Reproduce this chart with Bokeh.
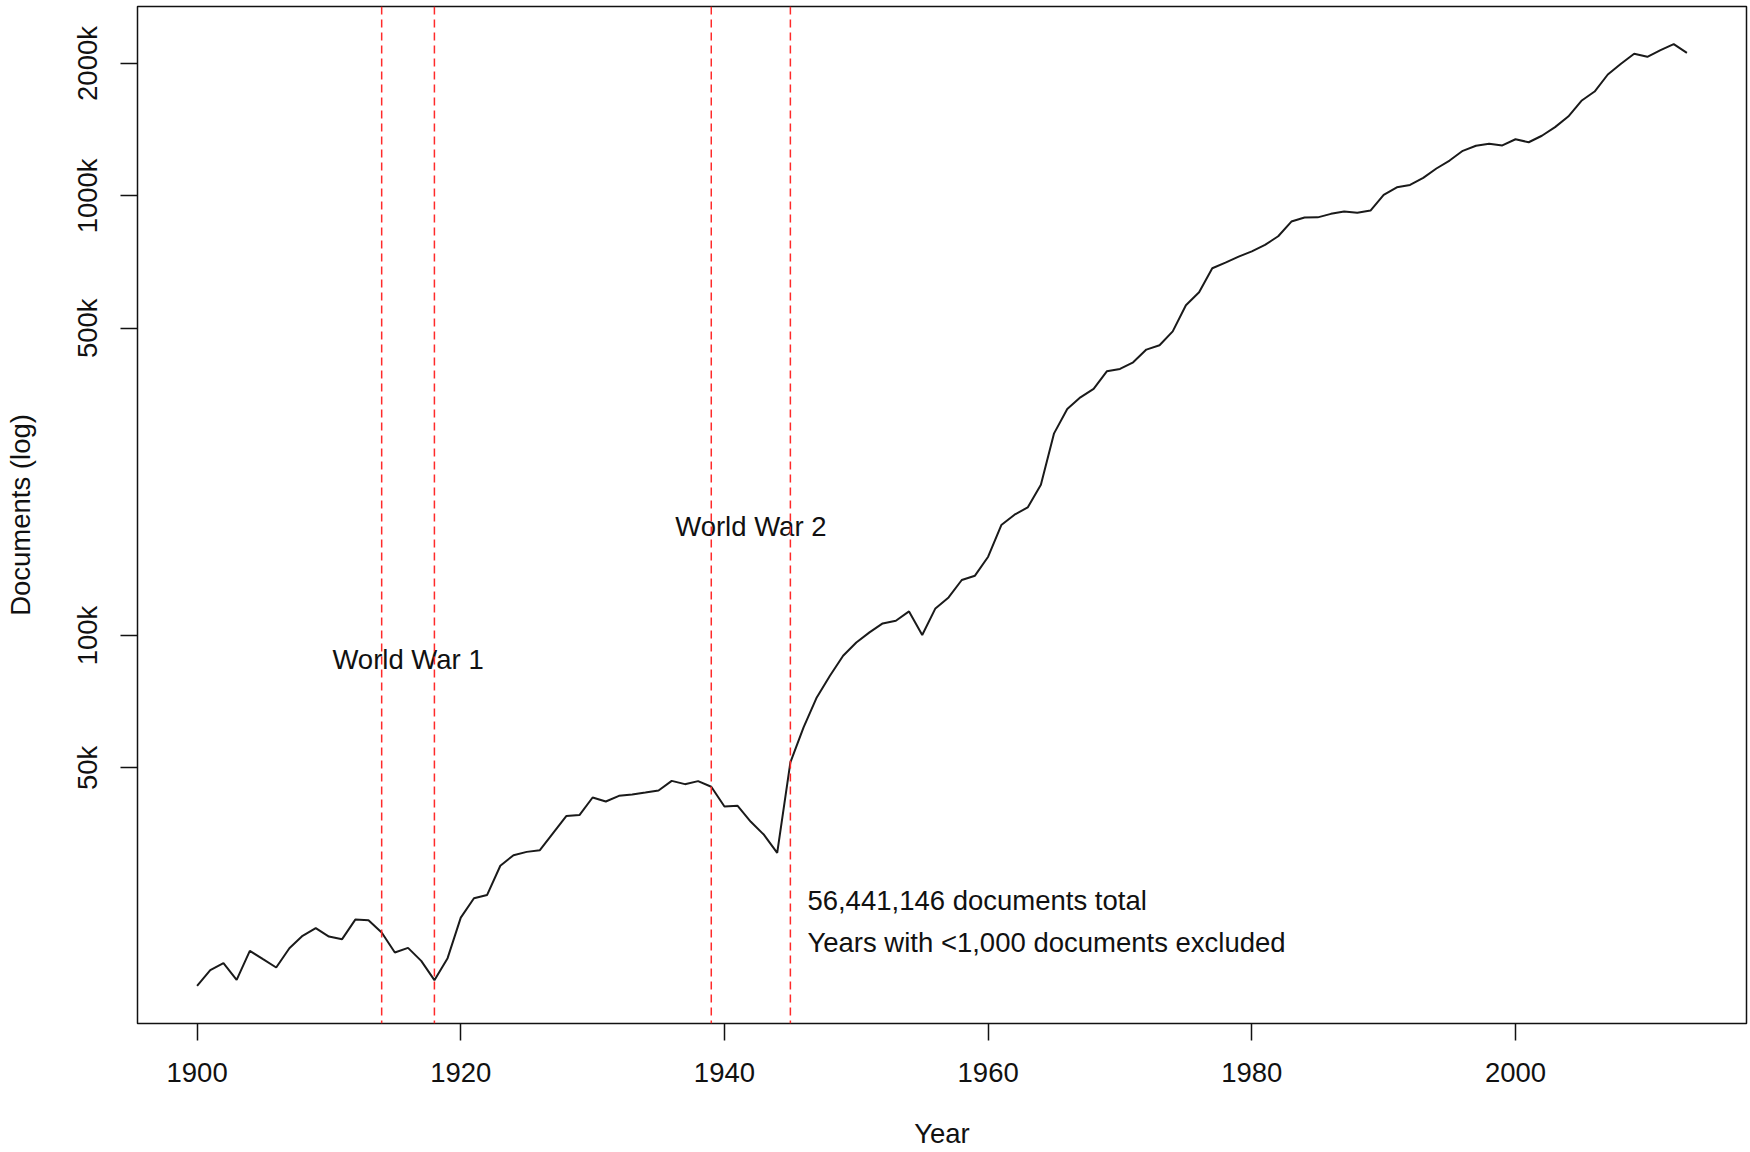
import math
from bokeh.plotting import figure
from bokeh.models import Range1d, FixedTicker, Span, ColumnDataSource
from bokeh.core.properties import value
from bokeh.embed import file_html
from bokeh.resources import INLINE

# ---------------- data ----------------
years = list(range(1900, 2014))
documents = [
    15970, 17340, 17980, 16480, 19180, 18360, 17580, 19450, 20750, 21600,   # 1900-1909
    20670, 20390, 22590, 22520, 21110, 19010, 19480, 18200, 16450, 18460,   # 1910-1919
    22830, 25270, 25710, 29950, 31660, 32210, 32500, 35530, 38850, 39060,   # 1920-1929
    42820, 41930, 43200, 43500, 43950, 44420, 46720, 45920, 46650, 45290,   # 1930-1939
    40860, 41000, 37700, 35220, 32050, 51440, 61790, 72310, 81000, 89950,   # 1940-1949
    96450, 101650, 106540, 108070, 113450, 100260, 115270, 122100, 133760, 136810,  # 1950-1959
    151110, 178380, 188290, 195620, 220350, 288270, 327560, 348100, 363800, 398950,  # 1960-1969
    404030, 418230, 447050, 457240, 491820, 563760, 603400, 684300, 705000, 727600,  # 1970-1979
    747900, 773500, 809200, 874000, 892500, 893500, 910000, 921000, 915000, 926000,  # 1980-1989
    1005000, 1046000, 1059000, 1099000, 1154000, 1203000, 1266000, 1300000, 1313000, 1302000,  # 1990-1999
    1345000, 1324000, 1370000, 1433000, 1515000, 1645000, 1727000, 1888000, 1997000, 2104000,  # 2000-2009
    2071000, 2144000, 2213000, 2115000,                                       # 2010-2013
]
x_ticks = [1900, 1920, 1940, 1960, 1980, 2000]
y_ticks = [50000, 100000, 500000, 1000000, 2000000]
y_tick_labels = ["50k", "100k", "500k", "1000k", "2000k"]
war_lines = [1914, 1918, 1939, 1945]
war_labels = ["World War 1", "World War 2"]
war_label_x = [1916, 1942]
war_label_y = [88000, 177000]
note_lines = ["56,441,146 documents total", "Years with <1,000 documents excluded"]
note_x = [1945, 1945]
note_y = [25000, 20000]

FONT = "Liberation Sans"
FS = "27.5px"

# R-style 4% range extension
xmin, xmax = min(years), max(years)
xpad = 0.04 * (xmax - xmin)
lmin, lmax = math.log10(min(documents)), math.log10(max(documents))
lpad = 0.04 * (lmax - lmin)

p = figure(
    width=1750, height=1152,
    output_backend="svg", toolbar_location=None,
    y_axis_type="log",
    x_range=Range1d(xmin - xpad, xmax + xpad),
    y_range=Range1d(10 ** (lmin - lpad), 10 ** (lmax + lpad)),
    min_border_left=137, min_border_right=4, min_border_top=6, min_border_bottom=129,
    x_axis_label="Year", y_axis_label="Documents (log)",
)
p.background_fill_color = "white"
p.border_fill_color = "white"
p.outline_line_color = "#111111"
p.outline_line_width = 1.5
p.xgrid.visible = False
p.ygrid.visible = False

p.xaxis.ticker = FixedTicker(ticks=x_ticks)
p.yaxis.ticker = FixedTicker(ticks=y_ticks)
p.yaxis.major_label_overrides = {t: l for t, l in zip(y_ticks, y_tick_labels)}
p.yaxis.major_label_orientation = "vertical"

for ax in p.axis:
    ax.axis_line_color = None
    ax.major_tick_in = 0
    ax.major_tick_out = 17
    ax.major_tick_line_width = 1.5
    ax.major_tick_line_color = "#111111"
    ax.minor_tick_line_color = None
    ax.major_label_text_font = FONT
    ax.major_label_text_font_size = FS
    ax.major_label_text_color = "#111111"
    ax.axis_label_text_font = FONT
    ax.axis_label_text_font_size = FS
    ax.axis_label_text_font_style = "normal"
    ax.axis_label_text_color = "#111111"
p.xaxis.major_label_standoff = 22
p.xaxis.axis_label_standoff = 33
p.yaxis.major_label_standoff = 17
p.yaxis.axis_label_standoff = 34

for yr in war_lines:
    p.add_layout(Span(location=yr, dimension="height", line_color="#ff2a2a",
                      line_width=1.5, line_dash="8 5"))

src = ColumnDataSource(dict(year=years, docs=documents))
p.line(x="year", y="docs", source=src, line_color="#1a1a1a", line_width=2)

p.text(x=war_label_x, y=war_label_y, text=war_labels,
       text_font=value(FONT), text_font_size=FS, text_color="#111111",
       text_align="center", text_baseline="middle")
p.text(x=note_x, y=note_y, text=note_lines, x_offset=17,
       text_font=value(FONT), text_font_size=FS, text_color="#111111",
       text_align="left", text_baseline="middle")

open("out.html", "w").write(file_html(p, INLINE))
